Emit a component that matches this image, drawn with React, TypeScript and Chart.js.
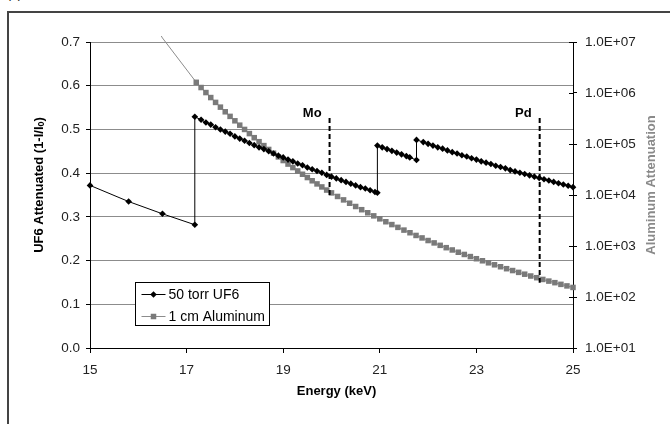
import React, { useEffect, useRef } from "react";
import { Chart, registerables } from "chart.js";

Chart.register(...registerables);

const FONT = "'Liberation Sans', Arial, Helvetica, sans-serif";

const xTicks = [15, 17, 19, 21, 23, 25];
const leftTicks = [0, 0.1, 0.2, 0.3, 0.4, 0.5, 0.6, 0.7];
const rightTicks = [1e1, 1e2, 1e3, 1e4, 1e5, 1e6, 1e7];
const rightTickLabels = ["1.0E+01", "1.0E+02", "1.0E+03", "1.0E+04", "1.0E+05", "1.0E+06", "1.0E+07"];

const seriesNames = ["50 torr UF6", "1 cm Aluminum"];
const xTitle = "Energy (keV)";
const leftTitleParts = ["UF6 Attenuated (1-I/I", "0", ")"];
const rightTitle = "Aluminum Attenuation";
const panelLabel = "(a)";

const uf6Energy = [
  15, 15.8, 16.5, 17.17, 17.17, 17.3, 17.4, 17.5, 17.6, 17.7, 17.8, 17.9, 18.0, 18.1, 18.2, 18.3,
  18.4, 18.5, 18.6, 18.7, 18.8, 18.9, 19.0, 19.1, 19.2, 19.3, 19.4, 19.5, 19.6, 19.7, 19.8, 19.9,
  20.0, 20.1, 20.2, 20.3, 20.4, 20.5, 20.6, 20.7, 20.8, 20.9, 20.95, 20.95, 21.05, 21.15, 21.25,
  21.35, 21.45, 21.55, 21.62, 21.76, 21.76, 21.9, 22.0, 22.1, 22.2, 22.3, 22.4, 22.5, 22.6, 22.7,
  22.8, 22.9, 23.0, 23.1, 23.2, 23.3, 23.4, 23.5, 23.6, 23.7, 23.8, 23.9, 24.0, 24.1, 24.2, 24.3,
  24.4, 24.5, 24.6, 24.7, 24.8, 24.9, 25.0,
];
const uf6Atten = [
  0.372, 0.335, 0.307, 0.282, 0.529, 0.522, 0.516, 0.511, 0.505, 0.5, 0.495, 0.49, 0.484, 0.479,
  0.474, 0.469, 0.464, 0.459, 0.455, 0.45, 0.445, 0.44, 0.436, 0.431, 0.427, 0.422, 0.418, 0.413,
  0.409, 0.405, 0.401, 0.396, 0.392, 0.388, 0.384, 0.38, 0.376, 0.372, 0.368, 0.365, 0.361, 0.357,
  0.355, 0.463, 0.459, 0.455, 0.451, 0.447, 0.443, 0.439, 0.436, 0.43, 0.476, 0.471, 0.467, 0.463,
  0.459, 0.456, 0.452, 0.448, 0.445, 0.441, 0.438, 0.434, 0.431, 0.427, 0.424, 0.421, 0.417, 0.414,
  0.411, 0.407, 0.404, 0.401, 0.398, 0.395, 0.392, 0.389, 0.386, 0.383, 0.38, 0.377, 0.374, 0.371,
  0.368,
];

const alEnergy = [
  15, 15.8, 16.5, 17.2, 17.3, 17.4, 17.5, 17.6, 17.7, 17.8, 17.9, 18.0, 18.1, 18.2, 18.3, 18.4,
  18.5, 18.6, 18.7, 18.8, 18.9, 19.0, 19.1, 19.2, 19.3, 19.4, 19.5, 19.6, 19.7, 19.8, 19.9, 20.0,
  20.125, 20.25, 20.375, 20.5, 20.625, 20.75, 20.875, 21.0, 21.125, 21.25, 21.375, 21.5, 21.625,
  21.75, 21.875, 22.0, 22.125, 22.25, 22.375, 22.5, 22.625, 22.75, 22.875, 23.0, 23.125, 23.25,
  23.375, 23.5, 23.625, 23.75, 23.875, 24.0, 24.125, 24.25, 24.375, 24.5, 24.625, 24.75, 24.875,
  25.0,
];
const alAtten = [
  2.1e9, 1.6e8, 1.2e7, 1.62e6, 1.28e6, 1.02e6, 8.14e5, 6.54e5, 5.28e5, 4.28e5, 3.48e5, 2.85e5,
  2.34e5, 1.93e5, 1.6e5, 1.33e5, 1.11e5, 9.3e4, 7.82e4, 6.6e4, 5.58e4, 4.74e4, 4.04e4, 3.45e4,
  2.96e4, 2.55e4, 2.2e4, 1.9e4, 1.65e4, 1.44e4, 1.25e4, 1.1e4, 9.36e3, 8.02e3, 6.9e3, 5.95e3,
  5.15e3, 4.48e3, 3.9e3, 3.41e3, 2.99e3, 2.63e3, 2.32e3, 2.05e3, 1.82e3, 1.61e3, 1.44e3, 1.28e3,
  1.15e3, 1.03e3, 927, 836, 755, 683, 620, 563, 513, 468, 428, 392, 359, 330, 304, 280, 258, 239,
  221, 205, 191, 177, 165, 154,
];

const edgeNames = ["Mo", "Pd"];
const edgeEnergy = [19.96, 24.31];
const edgeTop = [0.526, 0.526];
const edgeBottom = [0.343, 0.149];

const UF6_COLOR = "#000000";
const AL_LINE = "#8c8c8c";
const AL_MARK = "#7a7a7a";

function drawDiamond(ctx: CanvasRenderingContext2D, x: number, y: number, r: number, color: string) {
  ctx.fillStyle = color;
  ctx.beginPath();
  ctx.moveTo(x, y - r);
  ctx.lineTo(x + r, y);
  ctx.lineTo(x, y + r);
  ctx.lineTo(x - r, y);
  ctx.closePath();
  ctx.fill();
}

function drawSquare(ctx: CanvasRenderingContext2D, x: number, y: number, s: number, color: string) {
  ctx.fillStyle = color;
  ctx.fillRect(x - s / 2, y - s / 2, s, s);
}

const overlayPlugin = {
  id: "overlay",
  afterDraw(chart: any) {
    const { ctx, chartArea: a, scales } = chart;
    const xs = scales.x;
    const ys = scales.y;
    const y2 = scales.y2;
    ctx.save();

    // inner half of the right axis cross ticks
    ctx.strokeStyle = "#000";
    ctx.lineWidth = 1;
    ctx.beginPath();
    rightTicks.forEach((v) => {
      const py = Math.round(y2.getPixelForValue(v)) + 0.5;
      ctx.moveTo(a.right - 4, py);
      ctx.lineTo(a.right, py);
    });
    ctx.stroke();

    // edge labels
    ctx.font = `bold 13px ${FONT}`;
    ctx.fillStyle = "#000";
    ctx.textAlign = "right";
    ctx.textBaseline = "alphabetic";
    edgeNames.forEach((name, i) => {
      const px = xs.getPixelForValue(edgeEnergy[i]);
      const py = ys.getPixelForValue(edgeTop[i]);
      ctx.fillText(name, px - 8, py - 1);
    });

    // x title
    ctx.textAlign = "center";
    ctx.textBaseline = "middle";
    ctx.font = `bold 13px ${FONT}`;
    ctx.fillText(xTitle, (a.left + a.right) / 2 + 5, a.bottom + 43);

    const midY = (a.top + a.bottom) / 2 - 10;

    // left title with subscript
    ctx.save();
    ctx.translate(39, midY);
    ctx.rotate(-Math.PI / 2);
    ctx.textAlign = "left";
    ctx.textBaseline = "middle";
    const bigFont = `bold 13px ${FONT}`;
    const smallFont = `bold 9px ${FONT}`;
    ctx.font = bigFont;
    const w0 = ctx.measureText(leftTitleParts[0]).width;
    const w2 = ctx.measureText(leftTitleParts[2]).width;
    ctx.font = smallFont;
    const w1 = ctx.measureText(leftTitleParts[1]).width;
    let cx = -(w0 + w1 + w2) / 2;
    ctx.fillStyle = "#000";
    ctx.font = bigFont;
    ctx.fillText(leftTitleParts[0], cx, 0);
    cx += w0;
    ctx.font = smallFont;
    ctx.fillText(leftTitleParts[1], cx, 3);
    cx += w1;
    ctx.font = bigFont;
    ctx.fillText(leftTitleParts[2], cx, 0);
    ctx.restore();

    // right title
    ctx.save();
    ctx.translate(651, midY);
    ctx.rotate(-Math.PI / 2);
    ctx.textAlign = "center";
    ctx.textBaseline = "middle";
    ctx.font = `bold 13px ${FONT}`;
    ctx.fillStyle = "#8a8a8a";
    ctx.fillText(rightTitle, 0, 0);
    ctx.restore();

    // legend
    const bx = Math.round(a.left + 45) + 0.5;
    const by = Math.round(a.top + 240) + 0.5;
    const bw = 134;
    const bh = 43;
    ctx.fillStyle = "#fff";
    ctx.fillRect(bx, by, bw, bh);
    ctx.strokeStyle = "#000";
    ctx.lineWidth = 1;
    ctx.strokeRect(bx, by, bw, bh);
    const rows = [by + 11.5, by + 33];
    const colors = [UF6_COLOR, AL_LINE];
    ctx.font = `14px ${FONT}`;
    ctx.textAlign = "left";
    ctx.textBaseline = "middle";
    seriesNames.forEach((name, i) => {
      const ry = Math.round(rows[i]) + 0.5;
      ctx.strokeStyle = colors[i];
      ctx.beginPath();
      ctx.moveTo(bx + 6, ry);
      ctx.lineTo(bx + 30, ry);
      ctx.stroke();
      if (i === 0) drawDiamond(ctx, bx + 18, ry, 3.3, UF6_COLOR);
      else drawSquare(ctx, bx + 18, ry, 5.5, AL_MARK);
      ctx.fillStyle = "#000";
      ctx.fillText(name, bx + 33, ry + 0.5);
    });

    ctx.restore();
  },
};

export default function App() {
  const canvasRef = useRef<HTMLCanvasElement | null>(null);

  useEffect(() => {
    const canvas = canvasRef.current;
    if (!canvas) return;

    const uf6Data = uf6Energy.map((x, i) => ({ x, y: uf6Atten[i] }));
    const alData = alEnergy.map((x, i) => ({ x, y: alAtten[i] }));
    const edgeSets = edgeNames.map((name, i) => ({
      label: name,
      data: [
        { x: edgeEnergy[i], y: edgeTop[i] },
        { x: edgeEnergy[i], y: edgeBottom[i] },
      ],
      yAxisID: "y",
      borderColor: "#000",
      borderWidth: 2,
      borderDash: [5, 3],
      pointRadius: 0,
      fill: false,
    }));

    const tickFont = { family: FONT, size: 13.5 };

    const chart = new Chart(canvas, {
      type: "line",
      data: {
        datasets: [
          ...edgeSets,
          {
            label: seriesNames[0],
            data: uf6Data,
            yAxisID: "y",
            borderColor: UF6_COLOR,
            borderWidth: 1,
            pointStyle: "rectRot",
            pointRadius: 3.3,
            pointBackgroundColor: UF6_COLOR,
            pointBorderColor: UF6_COLOR,
            pointBorderWidth: 0,
            fill: false,
            clip: 6,
          },
          {
            label: seriesNames[1],
            data: alData,
            yAxisID: "y2",
            borderColor: AL_LINE,
            borderWidth: 1,
            pointStyle: "rect",
            pointRadius: (c: any) => (c.raw && c.raw.y > 1e7 ? 0 : 3.9),
            pointBackgroundColor: AL_MARK,
            pointBorderColor: AL_MARK,
            pointBorderWidth: 0,
            fill: false,
            clip: 6,
          },
        ] as any,
      },
      options: {
        animation: false,
        responsive: false,
        devicePixelRatio: 1,
        events: [],
        layout: { padding: { top: 42, left: 0, right: 0, bottom: 0 } },
        plugins: { legend: { display: false }, tooltip: { enabled: false } },
        scales: {
          x: {
            type: "linear",
            min: 15,
            max: 25,
            afterBuildTicks: (s: any) => {
              s.ticks = xTicks.map((v) => ({ value: v }));
            },
            afterFit: (s: any) => {
              s.height = 76;
            },
            grid: { display: true, drawOnChartArea: false, drawTicks: true, tickLength: 5, tickColor: "#000" },
            border: { display: true, color: "#000", width: 1 },
            ticks: {
              font: tickFont,
              color: "#222",
              padding: 9,
              maxRotation: 0,
              autoSkip: false,
              callback: (v: any) => String(v),
            },
          },
          y: {
            type: "linear",
            position: "left",
            min: 0,
            max: 0.7,
            afterBuildTicks: (s: any) => {
              s.ticks = leftTicks.map((v) => ({ value: v }));
            },
            afterFit: (s: any) => {
              s.width = 90;
            },
            grid: {
              color: (c: any) => (c.tick && c.tick.value === 0 ? "rgba(0,0,0,0)" : "#8c8c8c"),
              tickColor: "#000",
              tickLength: 4,
              lineWidth: 1,
            },
            border: { display: true, color: "#000", width: 1 },
            ticks: {
              font: tickFont,
              color: "#222",
              padding: 6,
              autoSkip: false,
              callback: (v: any) => Number(v).toFixed(1),
            },
          },
          y2: {
            type: "logarithmic",
            position: "right",
            min: 10,
            max: 1e7,
            afterBuildTicks: (s: any) => {
              s.ticks = rightTicks.map((v) => ({ value: v }));
            },
            afterFit: (s: any) => {
              s.width = 97;
            },
            grid: { display: true, drawOnChartArea: false, tickLength: 4, tickColor: "#000" },
            border: { display: true, color: "#000", width: 1 },
            ticks: {
              font: tickFont,
              color: "#222",
              padding: 8,
              autoSkip: false,
              callback: (_v: any, i: number) => rightTickLabels[i],
            },
          },
        },
      } as any,
      plugins: [overlayPlugin],
    });

    return () => chart.destroy();
  }, []);

  return (
    <div
      style={{
        position: "fixed",
        left: 0,
        top: 0,
        width: 670,
        height: 424,
        background: "#fff",
        overflow: "hidden",
      }}
    >
      <div
        style={{
          position: "absolute",
          left: 7,
          top: -12,
          font: `12px ${FONT}`,
          lineHeight: "12px",
          color: "#000",
        }}
      >
        {panelLabel}
      </div>
      <div
        style={{
          position: "absolute",
          left: 7,
          top: 11,
          width: 800,
          height: 600,
          borderLeft: "2px solid #444",
          borderTop: "2px solid #444",
        }}
      />
      <canvas
        ref={canvasRef}
        width={670}
        height={424}
        style={{ position: "absolute", left: 0, top: 0, width: 670, height: 424 }}
      />
    </div>
  );
}
